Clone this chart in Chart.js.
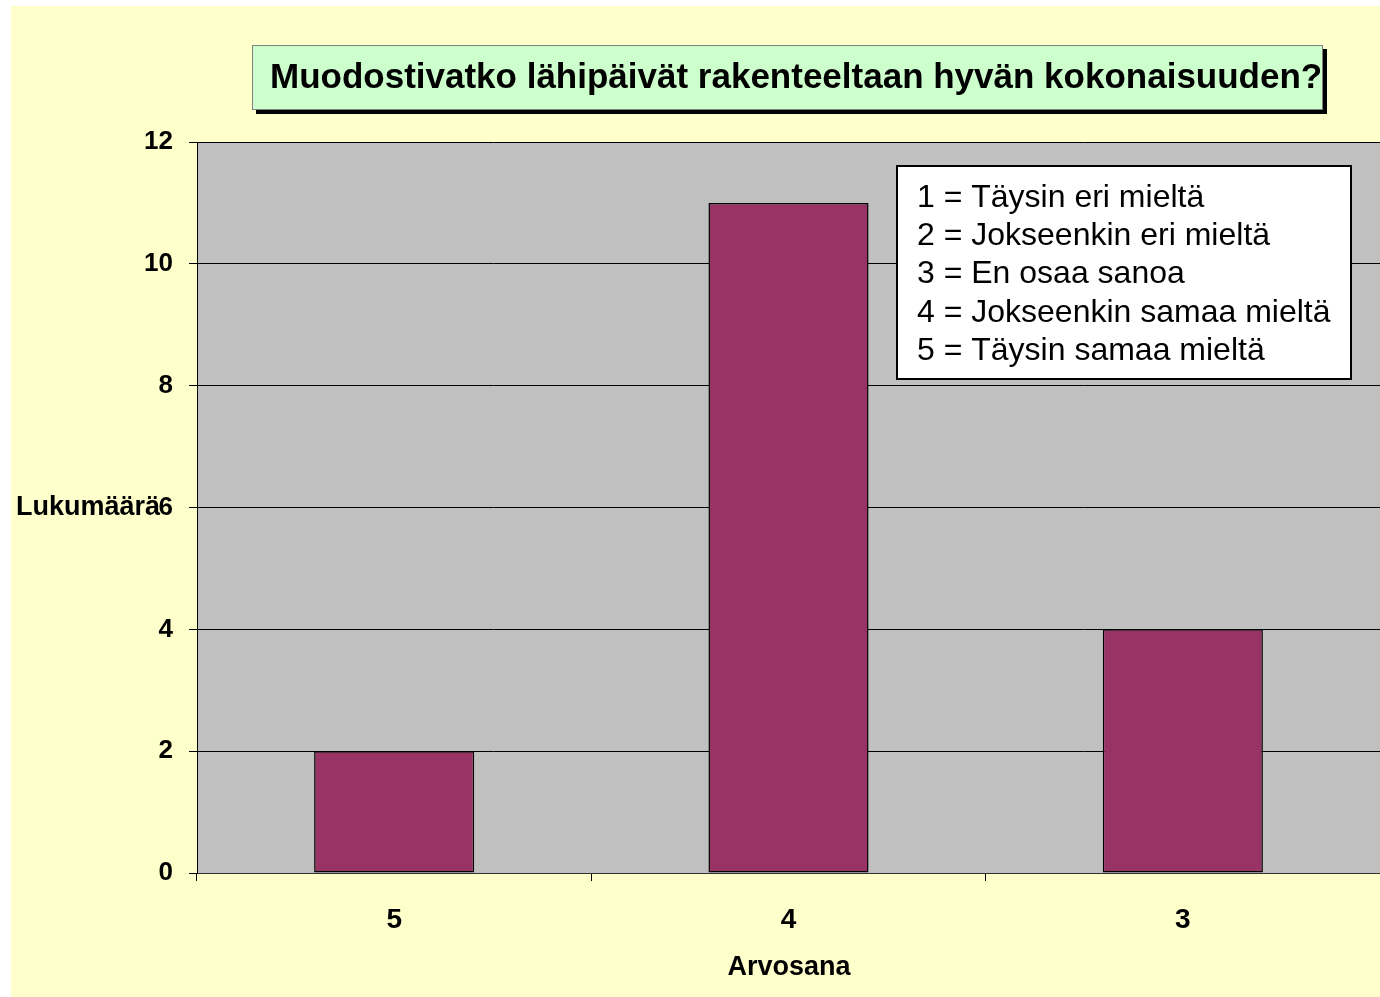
<!DOCTYPE html>
<html>
<head>
<meta charset="utf-8">
<script src="https://cdn.jsdelivr.net/npm/chart.js@4/dist/chart.umd.min.js"></script>
<style>
  html, body { margin: 0; padding: 0; background: #fff; }
  #wrap { width: 1380px; height: 997px; }
</style>
</head>
<body>
<div id="wrap"><canvas id="myChart" width="1380" height="997"></canvas></div>
<script>
const categories = ['5', '4', '3'];
const counts = [2, 11, 4];
const yTicks = [0, 2, 4, 6, 8, 10, 12];
const chartTitle = 'Muodostivatko lähipäivät rakenteeltaan hyvän kokonaisuuden?';
const legendLines = [
    '1 = Täysin eri mieltä',
    '2 = Jokseenkin eri mieltä',
    '3 = En osaa sanoa',
    '4 = Jokseenkin samaa mieltä',
    '5 = Täysin samaa mieltä'
];
const xTitle = 'Arvosana';
const yTitle = 'Lukumäärä';

const FONT = '"Liberation Sans", Arial, sans-serif';

// background, plot area, title box, note box and axis titles
const decorations = {
    id: 'decorations',
    beforeDraw(chart) {
        const ctx = chart.ctx;
        const a = chart.chartArea;
        ctx.save();
        ctx.fillStyle = '#ffffff';
        ctx.fillRect(0, 0, chart.width, chart.height);
        ctx.fillStyle = '#ffffcc';
        ctx.fillRect(11, 6, chart.width - 11, chart.height - 6);
        ctx.fillStyle = '#c0c0c0';
        ctx.fillRect(a.left, a.top, a.right - a.left, a.bottom - a.top);
        ctx.restore();
    },
    afterDraw(chart) {
        const ctx = chart.ctx;
        ctx.save();
        // title box with shadow
        ctx.fillStyle = '#000';
        ctx.fillRect(256, 49, 1071, 65);
        ctx.fillStyle = '#ccffcc';
        ctx.fillRect(252, 45, 1071, 65);
        ctx.strokeStyle = '#808080';
        ctx.lineWidth = 1;
        ctx.strokeRect(252.5, 45.5, 1070, 64);
        ctx.fillStyle = '#000';
        ctx.font = 'bold 35px ' + FONT;
        ctx.textAlign = 'left';
        ctx.textBaseline = 'middle';
        ctx.fillText(chartTitle, 270, 78);

        // explanation box
        ctx.fillStyle = '#fff';
        ctx.fillRect(897, 166, 454, 213);
        ctx.strokeStyle = '#000';
        ctx.lineWidth = 2;
        ctx.strokeRect(897, 166, 454, 213);
        ctx.fillStyle = '#000';
        ctx.font = '32px ' + FONT;
        legendLines.forEach((t, i) => {
            ctx.fillText(t, 917, 198 + i * 38.3);
        });

        // axis titles
        ctx.font = 'bold 27px ' + FONT;
        ctx.textAlign = 'left';
        ctx.fillText(yTitle, 16, 508);
        ctx.textAlign = 'center';
        ctx.fillText(xTitle, 789, 968);
        ctx.restore();
    }
};

const ctx = document.getElementById('myChart').getContext('2d');
const chart = new Chart(ctx, {
    type: 'bar',
    data: {
        labels: categories,
        datasets: [{
            data: counts,
            backgroundColor: '#993366',
            borderColor: '#000',
            borderWidth: 1.5,
            borderSkipped: false,
            barPercentage: 0.406,
            categoryPercentage: 1
        }]
    },
    options: {
        responsive: false,
        animation: false,
        layout: { padding: { top: 142, left: 0, right: 0, bottom: 0 } },
        plugins: {
            legend: { display: false },
            tooltip: { enabled: false }
        },
        scales: {
            x: {
                grid: {
                    offset: true,
                    drawOnChartArea: false,
                    drawTicks: true,
                    tickLength: 8,
                    color: '#000'
                },
                border: { color: '#333', width: 1 },
                ticks: {
                    color: '#000',
                    padding: 22,
                    font: { family: FONT, size: 28, weight: 'bold' }
                },
                afterFit(scale) { scale.height = 124; }
            },
            y: {
                min: 0,
                max: 12,
                afterBuildTicks(scale) {
                    scale.ticks = yTicks.map(v => ({ value: v }));
                },
                grid: {
                    color: '#000',
                    lineWidth: 1,
                    tickLength: 8
                },
                border: { color: '#000', width: 1 },
                ticks: {
                    color: '#000',
                    padding: 16,
                    font: { family: FONT, size: 26, weight: 'bold' }
                },
                afterFit(scale) { scale.width = 197; }
            }
        }
    },
    plugins: [decorations]
});
</script>
</body>
</html>
